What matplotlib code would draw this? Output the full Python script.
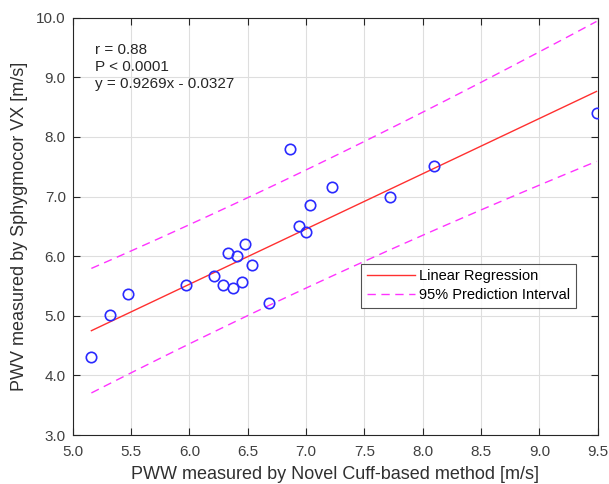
import matplotlib.pyplot as plt
import numpy as np

plt.rcParams['font.family'] = ['Liberation Sans', 'DejaVu Sans']

# measured PWV pairs [m/s]
pwv_cuff = [5.16, 5.32, 5.47, 5.97, 6.21, 6.29, 6.37, 6.33, 6.41, 6.45, 6.48,
            6.54, 6.68, 6.86, 6.94, 7.00, 7.03, 7.22, 7.72, 8.10, 9.49]
pwv_vx = [4.31, 5.02, 5.37, 5.52, 5.67, 5.52, 5.46, 6.06, 6.01, 5.56, 6.21,
          5.86, 5.22, 7.80, 6.51, 6.41, 6.86, 7.16, 7.00, 7.51, 8.40]

slope = 0.9269
intercept = -0.0327
t_crit = 1.99  # critical value used for the 95% band

xd = np.array(pwv_cuff)
yd = np.array(pwv_vx)
n = len(xd)

# regression + 95% prediction interval
xs = np.linspace(xd.min(), xd.max(), 100)
yfit = slope * xs + intercept
resid = yd - (slope * xd + intercept)
s_err = np.sqrt(np.sum(resid**2) / (n - 2))
sxx = np.sum((xd - xd.mean())**2)
half = t_crit * s_err * np.sqrt(1 + 1.0 / n + (xs - xd.mean())**2 / sxx)

fig = plt.figure(figsize=(6.09, 4.84), dpi=100)
ax = fig.add_axes([0.1194, 0.1012, 0.862, 0.8622])

ax.plot(xd, yd, 'o', mfc='none', mec='#2a2aff', mew=1.2, ms=7.5, zorder=3)
ax.plot(xs, yfit, '-', color='#ff3030', lw=1.0, label='Linear Regression')
ax.plot(xs, yfit + half, '--', color='#ff33ff', lw=1.0, dashes=(6, 4),
        label='95% Prediction Interval')
ax.plot(xs, yfit - half, '--', color='#ff33ff', lw=1.0, dashes=(6, 4))

ax.set_xlim(5.0, 9.5)
ax.set_ylim(3.0, 10.0)
ax.set_xticks(np.arange(5.0, 9.51, 0.5))
ax.set_yticks(np.arange(3.0, 10.01, 1.0))
ax.xaxis.set_major_formatter(plt.FormatStrFormatter('%.1f'))
ax.yaxis.set_major_formatter(plt.FormatStrFormatter('%.1f'))
ax.tick_params(direction='in', top=True, right=True, labelsize=11,
               colors='#262626', labelcolor='#404040', length=5)
ax.tick_params(axis='y', pad=5)
ax.tick_params(axis='x', pad=7.5)
ax.grid(True, color='#dedede', lw=0.8)
ax.set_axisbelow(True)
for sp in ax.spines.values():
    sp.set_color('#262626')

ax.set_xlabel('PWW measured by Novel Cuff-based method [m/s]', fontsize=13,
              color='#303030', labelpad=5)
ax.set_ylabel('PWV measured by Sphygmocor VX [m/s]', fontsize=13,
              color='#303030', labelpad=6)

ax.text(0.0425, 0.94, 'r = 0.88\nP < 0.0001\ny = 0.9269x - 0.0327',
        transform=ax.transAxes, va='top', ha='left', fontsize=11,
        linespacing=1.3, color='#262626')

leg = ax.legend(loc='upper left', bbox_to_anchor=(0.55, 0.411), fontsize=10.5,
                frameon=True, fancybox=False, edgecolor='#262626',
                handlelength=3.3, borderpad=0.4, labelspacing=0.3,
                handletextpad=0.25, borderaxespad=0)
leg.get_frame().set_linewidth(0.8)

fig.savefig('out.png', dpi=100)
